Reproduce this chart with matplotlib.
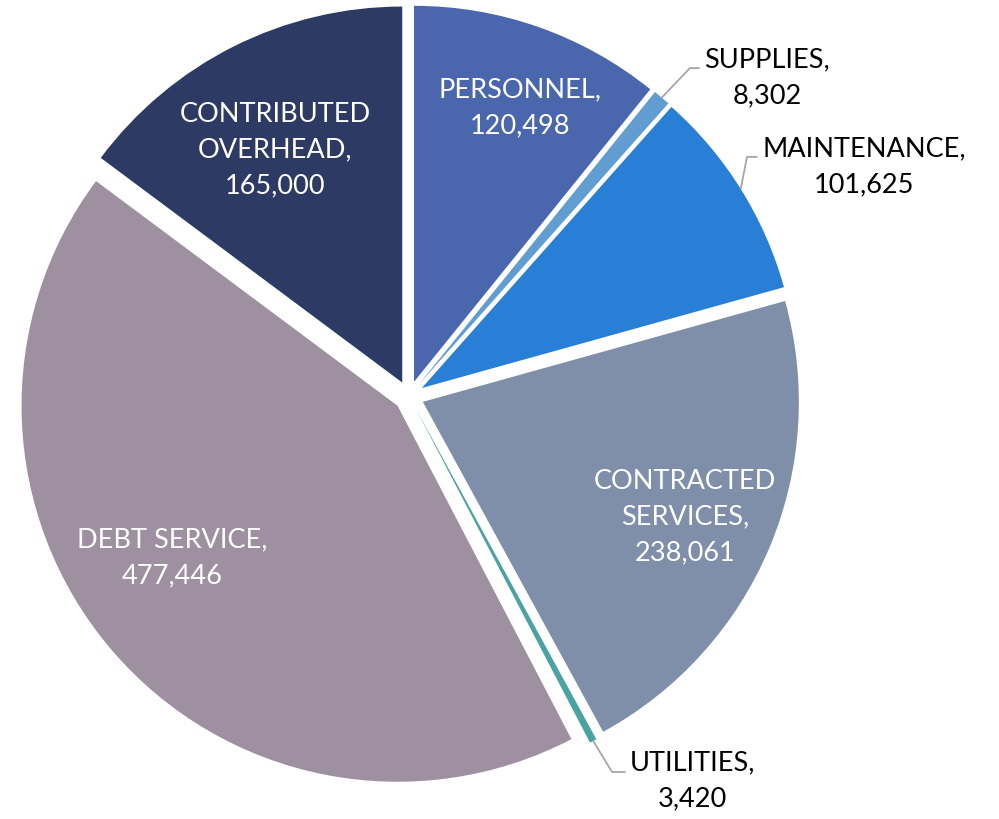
import numpy as np
import matplotlib
matplotlib.use("Agg")
import matplotlib.pyplot as plt

# data
categories = ["PERSONNEL", "SUPPLIES", "MAINTENANCE", "CONTRACTED\nSERVICES",
              "UTILITIES", "DEBT SERVICE", "CONTRIBUTED\nOVERHEAD"]
values = [120498, 8302, 101625, 238061, 3420, 477446, 165000]
colors = ["#4A66AC", "#629DD1", "#297FD5", "#7F8FA9", "#4AA3A2", "#9E90A0", "#2C3A64"]

# inside labels: position relative to pie centre (radius units)
inside = {0: (0.295, 0.766), 3: (0.734, -0.322), 5: (-0.630, -0.431), 6: (-0.356, 0.654)}
# outside labels: text anchor (left, centre) and elbow point of leader line
outside = {1: ((0.785, 0.846), (0.747, 0.872)),
           2: ((0.939, 0.609), (0.899, 0.636)),
           4: ((0.588, -1.024), (0.540, -1.0))}

plt.rcParams['font.family'] = ['Lato', 'DejaVu Sans']
fig = plt.figure(figsize=(9.99, 8.19), dpi=100)
ax = fig.add_axes([0, 0, 1, 1])

explode = 0.04
wedges, _ = ax.pie(values, colors=colors, startangle=90, counterclock=False,
                   explode=[explode] * len(values), radius=1,
                   wedgeprops=dict(linewidth=0))

for i, w in enumerate(wedges):
    label = f"{categories[i]},\n{values[i]:,}"
    if i in inside:
        x, y = inside[i]
        ax.text(x, y, label, ha="center", va="center", color="white",
                fontsize=19.5, linespacing=1.55, multialignment="center")
    else:
        (tx, ty), (ex, ey) = outside[i]
        # leader starts at the outer edge of the slice, mid angle
        mid = np.deg2rad((w.theta1 + w.theta2) / 2)
        cx, cy = w.center
        sx, sy = cx + np.cos(mid), cy + np.sin(mid)
        ax.plot([sx, ex, tx - 0.012], [sy, ey, ey], color="#A6A6A6", lw=1.3,
                solid_capstyle="butt")
        ax.text(tx, ty, label, ha="left", va="center", color="black",
                fontsize=19.5, linespacing=1.55, multialignment="center")

ax.set_xlim(-409 / 376, (999 - 409) / 376)
ax.set_ylim(-423 / 376, 396 / 376)
ax.axis("off")

plt.savefig("out.png", dpi=100)
